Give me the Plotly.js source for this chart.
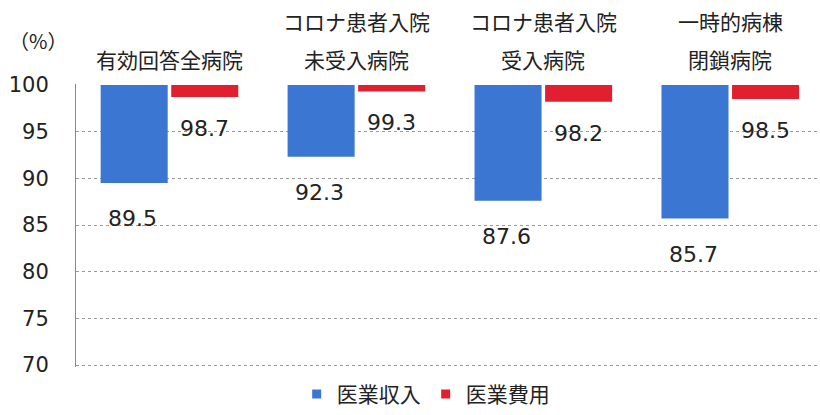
<!DOCTYPE html>
<html>
<head>
<meta charset="utf-8">
<script src="https://cdn.plot.ly/plotly-3.0.1.min.js"></script>
<style>html,body{margin:0;padding:0;background:#fff;}#chart{width:820px;height:415px;}</style>
</head>
<body>
<div id="chart"></div>
<script>
// Data
const categories = ['有効回答全病院', 'コロナ患者入院未受入病院', 'コロナ患者入院受入病院', '一時的病棟閉鎖病院'];
const labelLine1 = ['', 'コロナ患者入院', 'コロナ患者入院', '一時的病棟'];
const labelLine2 = ['有効回答全病院', '未受入病院', '受入病院', '閉鎖病院'];
const seriesNames = ['医業収入', '医業費用'];
const revenue = [89.5, 92.3, 87.6, 85.7];
const expense = [98.7, 99.3, 98.2, 98.5];
const baseLine = 100;
const yTicks = [70, 75, 80, 85, 90, 95, 100];

const numFont = 'DejaVu Sans, Verdana, sans-serif';
const jpFont = 'Noto Sans CJK JP, sans-serif';
const blue = '#3a76d2';
const red = '#e11f2e';
const txt = '#222';

const traces = [
  {
    type: 'bar', name: seriesNames[0], x: categories,
    y: revenue.map(v => v - baseLine), base: baseLine,
    marker: {color: blue}, hoverinfo: 'skip', showlegend: false
  },
  {
    type: 'bar', name: seriesNames[1], x: categories,
    y: expense.map(v => v - baseLine), base: baseLine,
    marker: {color: red}, hoverinfo: 'skip', showlegend: false
  },
  // legend entries with small square symbols
  {type: 'scatter', mode: 'markers', name: seriesNames[0], x: [null], y: [null],
   marker: {symbol: 'square', size: 9, color: blue}, hoverinfo: 'skip'},
  {type: 'scatter', mode: 'markers', name: seriesNames[1], x: [null], y: [null],
   marker: {symbol: 'square', size: 9, color: red}, hoverinfo: 'skip'}
];

const annotations = [];
categories.forEach((c, i) => {
  annotations.push({x: c, xref: 'x', y: revenue[i], yref: 'y', text: revenue[i].toFixed(1),
    showarrow: false, xshift: -37, yshift: -21, yanchor: 'top', xanchor: 'center',
    font: {family: numFont, size: 22, color: txt}});
  annotations.push({x: c, xref: 'x', y: expense[i], yref: 'y', text: expense[i].toFixed(1),
    showarrow: false, xshift: 35, yshift: -17, yanchor: 'top', xanchor: 'center',
    font: {family: numFont, size: 22, color: txt}});
  if (labelLine1[i]) {
    annotations.push({x: c, xref: 'x', y: 1.222, yref: 'paper', text: labelLine1[i],
      showarrow: false, yanchor: 'middle', xanchor: 'center',
      font: {family: jpFont, size: 21, color: txt}});
  }
  annotations.push({x: c, xref: 'x', y: 1.09, yref: 'paper', text: labelLine2[i],
    showarrow: false, yanchor: 'middle', xanchor: 'center',
    font: {family: jpFont, size: 21, color: txt}});
});
annotations.push({x: -0.051, xref: 'paper', y: 1.153, yref: 'paper', text: '（%）',
  showarrow: false, xanchor: 'center', yanchor: 'middle',
  font: {family: jpFont, size: 20, color: txt}});

const layout = {
  width: 820, height: 415,
  margin: {l: 76, r: 0, t: 84, b: 43},
  paper_bgcolor: '#fff', plot_bgcolor: '#fff',
  barmode: 'group', bargap: 0.245, bargroupgap: 0.05,
  showlegend: true,
  legend: {orientation: 'h', x: 0.47, xanchor: 'center', y: -0.097, yanchor: 'middle',
    font: {family: jpFont, size: 21, color: txt}, itemwidth: 30, traceorder: 'normal'},
  xaxis: {range: [-0.5, 3.48], showticklabels: false, showgrid: false, zeroline: false,
    showline: false, ticks: ''},
  yaxis: {range: [69.8, 100.1], tickvals: yTicks, ticktext: yTicks.map(String),
    showgrid: true, gridcolor: '#9a9a9a', griddash: 'dot', gridwidth: 1,
    zeroline: false, showline: true, linecolor: '#8a8a8a', linewidth: 1,
    ticks: '', ticklabelstandoff: 22,
    tickfont: {family: numFont, size: 21, color: txt}},
  annotations: annotations
};

Plotly.newPlot('chart', traces, layout, {staticPlot: true, displayModeBar: false});
</script>
</body>
</html>
